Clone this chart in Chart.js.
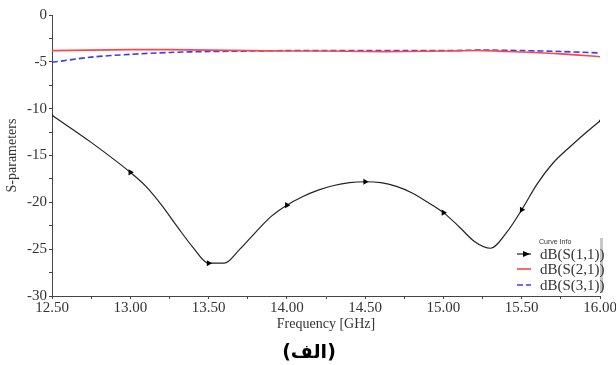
<!DOCTYPE html>
<html>
<head>
<meta charset="utf-8">
<script src="https://cdn.jsdelivr.net/npm/chart.js@4.4.0/dist/chart.umd.min.js"></script>
<style>
    body { margin: 0; background: #fff; }
    #wrap { width: 616px; height: 365px; }
</style>
</head>
<body>
<div id="wrap"><canvas id="sparam" width="616" height="365"></canvas></div>
<script>
// frequency samples (GHz) and S11 in dB
var freqS11 = [12.50, 12.75, 13.00, 13.10, 13.20, 13.30, 13.40, 13.50, 13.60, 13.70, 13.80, 13.90,
    14.00, 14.10, 14.20, 14.30, 14.40, 14.50, 14.60, 14.70, 14.80, 14.90, 15.00, 15.10,
    15.20, 15.30, 15.40, 15.50, 15.60, 15.70, 15.80, 15.90, 16.00];
var s11 = [-10.7, -13.6, -16.8, -18.3, -20.3, -22.6, -24.8, -26.5, -26.5, -25.0, -23.2, -21.5,
    -20.3, -19.4, -18.7, -18.2, -17.9, -17.8, -17.9, -18.3, -19.0, -20.0, -21.1, -22.6,
    -24.2, -24.9, -23.3, -20.8, -18.0, -15.8, -14.2, -12.7, -11.3];

// S21 / S31 sampled coarser
var freq = [12.50, 12.75, 13.00, 13.25, 13.50, 13.75, 14.00, 14.25, 14.50, 14.75, 15.00, 15.25, 15.50, 15.75, 16.00];
var s21 = [-3.8, -3.75, -3.7, -3.7, -3.75, -3.8, -3.85, -3.85, -3.9, -3.9, -3.85, -3.8, -3.95, -4.15, -4.45];
var s31 = [-5.05, -4.5, -4.2, -4.0, -3.9, -3.85, -3.8, -3.8, -3.8, -3.8, -3.8, -3.75, -3.8, -3.9, -4.05];

var xTicks = [12.5, 13.0, 13.5, 14.0, 14.5, 15.0, 15.5, 16.0];
var seriesNames = ["dB(S(1,1))", "dB(S(2,1))", "dB(S(3,1))"];
var caption = "(الف)";

function pairs(xs, ys) {
    return xs.map(function (x, i) { return { x: x, y: ys[i] }; });
}

// marker only on the 0.5 GHz grid, small dot at both ends
function markerRadius(ctx) {
    var x = freqS11[ctx.dataIndex];
    if (ctx.dataIndex === 0 || ctx.dataIndex === freqS11.length - 1) return 1.5;
    return xTicks.indexOf(x) >= 0 ? 3.5 : 0;
}

const legendBox = {
    id: 'legendBox',
    afterDraw(chart) {
        const c = chart.ctx;
        const x0 = 517, y0 = 238, w = 83, h = 54;
        c.save();
        c.fillStyle = '#fff';
        c.fillRect(x0, y0, w, h);
        c.fillStyle = '#c8c8c8';
        c.fillRect(x0 + w, y0, 3, h + 1);
        c.fillStyle = '#333';
        c.font = "7px 'Liberation Sans'";
        c.textBaseline = 'middle';
        c.fillText('Curve Info', 539, 242);
        const ys = [254, 269, 285];
        chart.data.datasets.forEach(function (ds, i) {
            c.strokeStyle = ds.borderColor;
            c.lineWidth = ds.borderWidth;
            c.setLineDash(ds.borderDash || []);
            c.beginPath();
            c.moveTo(517, ys[i]);
            c.lineTo(531, ys[i]);
            c.stroke();
            c.setLineDash([]);
            if (i === 0) {
                c.fillStyle = '#000';
                c.beginPath();
                c.moveTo(530, ys[i]);
                c.lineTo(523, ys[i] - 3);
                c.lineTo(523, ys[i] + 3);
                c.closePath();
                c.fill();
            }
            c.fillStyle = '#333';
            c.font = "15px 'Liberation Serif'";
            c.fillText(ds.label, 540, ys[i] + 1);
        });
        // caption under the chart
        c.fillStyle = '#000';
        c.font = "bold 19px 'DejaVu Sans'";
        c.textAlign = 'center';
        c.fillText(caption, 309, 353);
        c.restore();
    }
};

function init() {
    Chart.defaults.font.family = "'Liberation Serif'";
    Chart.defaults.color = '#333';

    const data = {
        datasets: [
            {
                label: seriesNames[0],
                data: pairs(freqS11, s11),
                borderColor: '#222',
                backgroundColor: '#000',
                borderWidth: 1.2,
                pointStyle: 'triangle',
                pointRotation: 90,
                pointRadius: markerRadius,
                pointBorderWidth: 0,
                cubicInterpolationMode: 'monotone'
            },
            {
                label: seriesNames[1],
                data: pairs(freq, s21),
                borderColor: 'rgb(255, 70, 70)',
                borderWidth: 1.6,
                pointRadius: 0,
                tension: 0.3
            },
            {
                label: seriesNames[2],
                data: pairs(freq, s31),
                borderColor: 'rgb(60, 60, 255)',
                borderWidth: 1.6,
                borderDash: [6, 3],
                pointRadius: 0,
                tension: 0.3
            }
        ]
    };

    const config = {
        type: 'line',
        data: data,
        options: {
            responsive: false,
            animation: false,
            layout: { padding: { top: 15, right: 16, bottom: 30, left: 0 } },
            plugins: {
                legend: { display: false },
                tooltip: { enabled: false }
            },
            scales: {
                x: {
                    type: 'linear',
                    min: 12.5,
                    max: 16,
                    afterBuildTicks: function (scale) {
                        var t = [];
                        for (var v = 12.5; v <= 16.001; v += 0.25) t.push({ value: Math.round(v * 100) / 100 });
                        scale.ticks = t;
                    },
                    afterFit: function (scale) {
                        scale.height = 39;
                        scale.paddingLeft = 0;
                        scale.paddingRight = 0;
                    },
                    grid: { drawOnChartArea: false, tickLength: 3, color: '#444' },
                    border: { color: '#444', width: 1 },
                    ticks: {
                        autoSkip: false,
                        maxRotation: 0,
                        padding: 0,
                        font: { size: 15 },
                        callback: function (v) {
                            return xTicks.indexOf(v) >= 0 ? v.toFixed(2) : '';
                        }
                    },
                    title: {
                        display: true,
                        text: 'Frequency [GHz]',
                        font: { size: 14 },
                        padding: { top: 0, bottom: 2 }
                    }
                },
                y: {
                    min: -30,
                    max: 0,
                    ticks: {
                        stepSize: 2.5,
                        padding: 2,
                        font: { size: 15 },
                        callback: function (v) {
                            return v % 5 === 0 ? String(v) : '';
                        }
                    },
                    afterFit: function (scale) {
                        scale.width = 52;
                        scale.paddingTop = 0;
                        scale.paddingBottom = 0;
                    },
                    grid: { drawOnChartArea: false, tickLength: 3, color: '#444' },
                    border: { color: '#444', width: 1 },
                    title: {
                        display: true,
                        text: 'S-parameters',
                        font: { size: 14 },
                        padding: { top: 4, bottom: 0 }
                    }
                }
            }
        },
        plugins: [legendBox]
    };
    const sparamChart = new Chart(document.getElementById("sparam"), config);
}

window.addEventListener("load", init);
</script>
</body>
</html>
